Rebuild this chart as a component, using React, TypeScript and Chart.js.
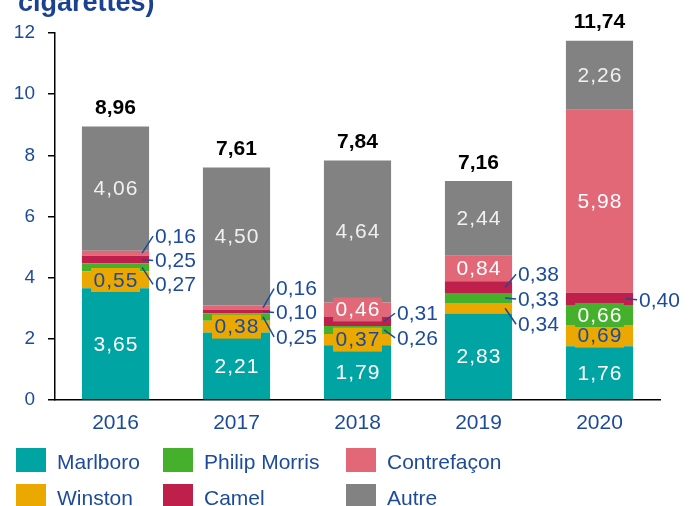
import { useEffect, useRef } from 'react';
import { Chart, registerables } from 'chart.js';

Chart.register(...registerables);

// ---------- data ----------
const years = ['2016', '2017', '2018', '2019', '2020'];
const seriesNames = ['Marlboro', 'Winston', 'Philip Morris', 'Camel', 'Contrefaçon', 'Autre'];
const marlboro = [3.65, 2.21, 1.79, 2.83, 1.76];
const winston = [0.55, 0.38, 0.37, 0.34, 0.69];
const philipMorris = [0.27, 0.25, 0.26, 0.33, 0.66];
const camel = [0.25, 0.10, 0.31, 0.38, 0.40];
const contrefacon = [0.16, 0.16, 0.46, 0.84, 5.98];
const autre = [4.06, 4.50, 4.64, 2.44, 2.26];
const totals = [8.96, 7.61, 7.84, 7.16, 11.74];
const yTicks = [0, 2, 4, 6, 8, 10, 12];
const titleText = 'cigarettes)';

// ---------- styles / layout ----------
const seriesColors = ['#00a5a3', '#eba900', '#44b02b', '#be1f4b', '#e26877', '#828282'];
const insideTextColors = ['#ffffff', '#1d4b9a', '#ffffff', '#ffffff', '#ffffff', '#f0f0f0'];
const BLUE = '#1d4b9a';
const FONT = '"Liberation Sans", Arial, sans-serif';
// null = label inside the segment; number = outside label, vertical offset (px) from segment centre
const labelPlacement: (number | null)[][] = [
  [null, null, null, null, null],
  [null, null, null, 16, null],
  [17, 20, 8, 1, null],
  [1, 1, -8, -13, 1],
  [-17, -19, null, null, null],
  [null, null, null, null, null],
];
// legend grid: [column, row]
const legendCols = [16, 163, 346];
const legendRows = [448, 484];
const legendPos = [[0, 0], [0, 1], [1, 0], [1, 1], [2, 0], [2, 1]];

const fmt = (v: number) => v.toFixed(2).replace('.', ',');

const annotatePlugin = {
  id: 'annotate',
  afterDatasetsDraw(chart: any) {
    const ctx = chart.ctx as CanvasRenderingContext2D;
    ctx.save();
    chart.data.datasets.forEach((ds: any, di: number) => {
      const meta = chart.getDatasetMeta(di);
      meta.data.forEach((bar: any, i: number) => {
        const { x, y, base, width } = bar.getProps(['x', 'y', 'base', 'width'], true);
        const cy = (y + base) / 2;
        const txt = fmt(ds.data[i]);
        const off = labelPlacement[di][i];
        ctx.font = `21px ${FONT}`;
        if (off === null) {
          (ctx as any).letterSpacing = '1px';
          const tw = ctx.measureText(txt).width;
          ctx.fillStyle = seriesColors[di];
          ctx.fillRect(x - tw / 2 - 2, cy - 12, tw + 4, 24);
          ctx.fillStyle = insideTextColors[di];
          ctx.textAlign = 'center';
          ctx.textBaseline = 'middle';
          ctx.fillText(txt, x + 0.5, cy + 1);
          (ctx as any).letterSpacing = '0px';
        } else {
          const right = x + width / 2;
          const ly = cy + off;
          ctx.strokeStyle = BLUE;
          ctx.lineWidth = 1.5;
          ctx.beginPath();
          ctx.moveTo(right - 7, cy);
          ctx.lineTo(right + 4, ly);
          ctx.stroke();
          ctx.fillStyle = BLUE;
          ctx.textAlign = 'left';
          ctx.textBaseline = 'middle';
          ctx.fillText(txt, right + 6, ly + 1);
        }
      });
    });
    // totals
    const last = chart.getDatasetMeta(chart.data.datasets.length - 1);
    ctx.font = `bold 21px ${FONT}`;
    ctx.fillStyle = '#000000';
    ctx.textAlign = 'center';
    ctx.textBaseline = 'middle';
    last.data.forEach((bar: any, i: number) => {
      const { x, y } = bar.getProps(['x', 'y'], true);
      ctx.fillText(fmt(totals[i]), x, y - 18);
    });
    ctx.restore();
  },
  afterDraw(chart: any) {
    const ctx = chart.ctx as CanvasRenderingContext2D;
    ctx.save();
    // title fragment
    ctx.font = `bold 27px ${FONT}`;
    ctx.fillStyle = '#1a4291';
    ctx.textAlign = 'left';
    ctx.textBaseline = 'alphabetic';
    ctx.fillText(titleText, 18, 11);
    // legend
    ctx.font = `21px ${FONT}`;
    chart.data.datasets.forEach((ds: any, di: number) => {
      const [c, r] = legendPos[di];
      const bx = legendCols[c];
      const by = legendRows[r];
      ctx.fillStyle = seriesColors[di];
      ctx.fillRect(bx, by, 30, 24);
      ctx.fillStyle = BLUE;
      ctx.textBaseline = 'alphabetic';
      ctx.fillText(ds.label, bx + 41, by + 21);
    });
    ctx.restore();
  },
};

export default function App() {
  const ref = useRef<HTMLCanvasElement>(null);
  useEffect(() => {
    if (!ref.current) return;
    const series = [marlboro, winston, philipMorris, camel, contrefacon, autre];
    const chart = new Chart(ref.current, {
      type: 'bar',
      data: {
        labels: years,
        datasets: series.map((d, i) => ({
          label: seriesNames[i],
          data: d,
          backgroundColor: seriesColors[i],
          borderWidth: 0,
          categoryPercentage: 1,
          barPercentage: 0.555,
        })),
      },
      options: {
        responsive: false,
        animation: false,
        devicePixelRatio: 1,
        layout: { padding: { top: 33, right: 38, bottom: 66, left: 0 } },
        plugins: { legend: { display: false }, tooltip: { enabled: false }, title: { display: false } },
        scales: {
          x: {
            stacked: true,
            grid: { display: false },
            border: { display: true, color: '#000000', width: 1.5 },
            ticks: { color: BLUE, font: { size: 21, family: FONT }, padding: 3 },
            afterFit: (s: any) => { s.height = 40; },
          },
          y: {
            stacked: true,
            min: 0,
            max: 12,
            grid: { display: true, drawOnChartArea: false, drawTicks: true, tickLength: 7, color: '#000000', lineWidth: 1.5 },
            border: { display: true, color: '#000000', width: 1.5 },
            ticks: { color: BLUE, font: { size: 19, family: FONT }, padding: 13 },
            afterBuildTicks: (s: any) => { s.ticks = yTicks.map((v) => ({ value: v })); },
            afterFit: (s: any) => { s.width = 55; },
          },
        },
      },
      plugins: [annotatePlugin],
    });
    return () => chart.destroy();
  }, []);
  return (
    <div style={{ position: 'absolute', left: 0, top: 0, width: 698, height: 506, background: '#ffffff', overflow: 'hidden' }}>
      <canvas ref={ref} width={698} height={506} style={{ display: 'block', width: 698, height: 506 }} />
    </div>
  );
}
